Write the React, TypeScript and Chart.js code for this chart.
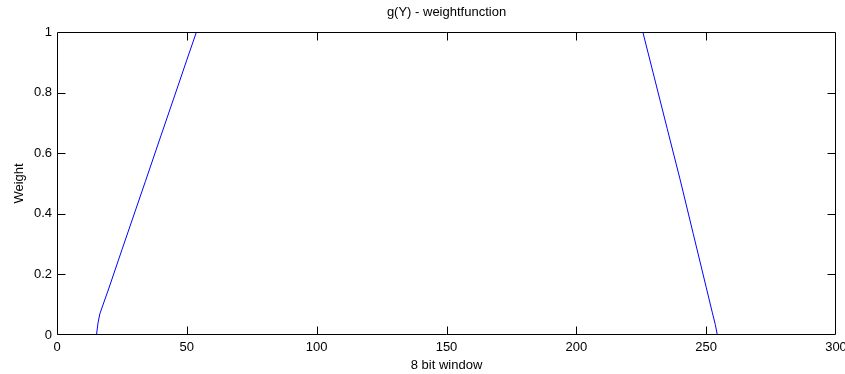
import React, { useEffect, useRef } from "react";
import { Chart, registerables } from "chart.js";

Chart.register(...registerables);

const chartTitle = "g(Y) - weightfunction";
const xAxisTitle = "8 bit window";
const yAxisTitle = "Weight";

const xMin = 0;
const xMax = 300;
const xStep = 50;
const yMin = 0;
const yMax = 1;
const yStep = 0.2;

const weightX = [0, 15.2, 15.8, 16.5, 20, 25, 30, 34, 40, 45, 50, 53.7, 100, 150, 200, 225.6, 230, 235, 240, 245, 250, 252.4, 253.5, 254.3, 255];
const weightY = [0, 0, 0.04, 0.07, 0.155, 0.281, 0.406, 0.506, 0.657, 0.782, 0.908, 1, 1, 1, 1, 1, 0.851, 0.681, 0.512, 0.335, 0.158, 0.073, 0.035, 0, 0];

const FONT = "'Liberation Sans', Arial, sans-serif";

const boxPlugin = {
  id: "matlabBox",
  afterDatasetsDraw(chart: any) {
    const { ctx, chartArea, scales } = chart;
    const { left, right, top, bottom } = chartArea;
    const xs = scales.x;
    const ys = scales.y;
    const L = Math.round(left) + 0.5;
    const R = Math.round(right) - 0.5;
    const T = Math.round(top) + 0.5;
    const B = Math.round(bottom) - 0.5;
    const len = 8;
    ctx.save();
    ctx.strokeStyle = "#000";
    ctx.lineWidth = 1;
    ctx.beginPath();
    ctx.rect(L, T, R - L, B - T);
    for (let v = xMin + xStep; v < xMax; v += xStep) {
      const px = Math.round(xs.getPixelForValue(v)) + 0.5;
      ctx.moveTo(px, B);
      ctx.lineTo(px, B - len);
      ctx.moveTo(px, T);
      ctx.lineTo(px, T + len);
    }
    for (let i = 1; i < Math.round((yMax - yMin) / yStep); i++) {
      const v = yMin + i * yStep;
      const py = Math.round(ys.getPixelForValue(v)) + 0.5;
      ctx.moveTo(L, py);
      ctx.lineTo(L + len, py);
      ctx.moveTo(R, py);
      ctx.lineTo(R - len, py);
    }
    ctx.stroke();
    ctx.restore();
  },
};

export default function App() {
  const ref = useRef<HTMLCanvasElement | null>(null);

  useEffect(() => {
    document.body.style.margin = "0";
    document.body.style.background = "#fff";
    const canvas = ref.current;
    if (!canvas) return;
    const data = weightX.map((x, i) => ({ x, y: weightY[i] }));
    const chart = new Chart(canvas, {
      type: "line",
      data: {
        datasets: [
          {
            data,
            borderColor: "rgb(0,0,255)",
            borderWidth: 1,
            pointRadius: 0,
            tension: 0,
            fill: false,
            clip: 0,
          } as any,
        ],
      },
      options: {
        animation: false,
        responsive: false,
        devicePixelRatio: 1,
        layout: { padding: { left: 0, right: 9, top: 0, bottom: 0 } },
        plugins: {
          legend: { display: false },
          tooltip: { enabled: false },
          title: {
            display: true,
            text: chartTitle,
            color: "#000",
            fullSize: false,
            font: { family: FONT, size: 13, weight: "normal" as any },
            padding: { top: 5, bottom: 11.4 },
          },
        },
        scales: {
          x: {
            type: "linear",
            min: xMin,
            max: xMax,
            grid: { display: false, drawTicks: false },
            border: { display: false },
            ticks: {
              stepSize: xStep,
              color: "#000",
              padding: 5,
              maxRotation: 0,
              font: { family: FONT, size: 13 },
            },
            title: {
              display: true,
              text: xAxisTitle,
              color: "#000",
              font: { family: FONT, size: 13 },
              padding: { top: 0, bottom: 1 },
            },
            afterFit(scale: any) {
              scale.height = 39;
              scale.paddingRight = 0;
              scale.paddingLeft = 0;
            },
          },
          y: {
            type: "linear",
            min: yMin,
            max: yMax,
            grid: { display: false, drawTicks: false },
            border: { display: false },
            ticks: {
              stepSize: yStep,
              color: "#000",
              padding: 5,
              font: { family: FONT, size: 13 },
              callback: (v: any) => String(Math.round(Number(v) * 10) / 10),
            },
            title: {
              display: true,
              text: yAxisTitle,
              color: "#000",
              font: { family: FONT, size: 13 },
              padding: { top: 12, bottom: 0 },
            },
            afterFit(scale: any) {
              scale.width = 57;
              scale.paddingTop = 0;
              scale.paddingBottom = 0;
            },
          },
        },
      },
      plugins: [boxPlugin],
    });
    return () => chart.destroy();
  }, []);

  return <canvas ref={ref} width={845} height={374} style={{ display: "block" }} />;
}
